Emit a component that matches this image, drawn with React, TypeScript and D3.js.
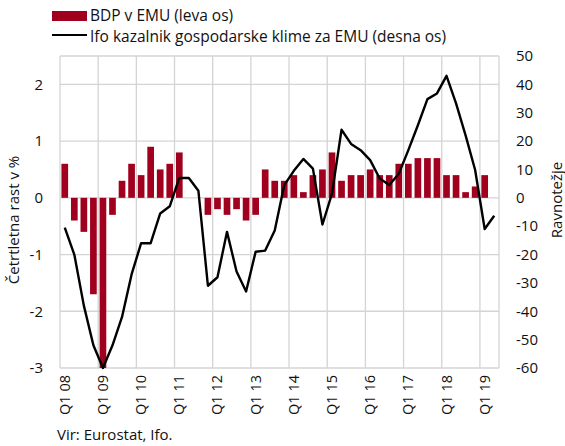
import * as d3 from "d3";

const width = 565;
const height = 446;
const marginTop = 56;
const marginBottom = 78;
const marginLeft = 60;
const marginRight = 66;

const years = ["08", "09", "10", "11", "12", "13", "14", "15", "16", "17", "18", "19"];
const quarters = years.flatMap((y) => ["Q1", "Q2", "Q3", "Q4"].map((q) => `${q} ${y}`)).slice(0, 46);

// quarterly GDP growth in EMU, % (left axis)
const gdp = [
  0.6, -0.4, -0.6, -1.7, -3.0, -0.3, 0.3, 0.6,
  0.4, 0.9, 0.5, 0.6, 0.8, 0, 0, -0.3,
  -0.2, -0.3, -0.2, -0.4, -0.3, 0.5, 0.3, 0.3,
  0.4, 0.1, 0.4, 0.5, 0.8, 0.3, 0.4, 0.4,
  0.5, 0.4, 0.4, 0.6, 0.6, 0.7, 0.7, 0.7,
  0.4, 0.4, 0.1, 0.2, 0.4, null,
];

// Ifo economic climate for EMU, balance (right axis)
const ifo = [
  -10.5, -20, -38, -52, -60, -52, -42, -27,
  -16, -16, -5.5, -3, 7, 7, 2.5, -31,
  -28, -12, -26, -33, -19, -18.6, -11.5, 4.5,
  9.5, 13.7, 10.3, -9.4, 1.5, 24, 19, 16.8,
  13.3, 6.8, 4.5, 8.5, 16.8, 25.6, 34.8, 36.8,
  43, 33.3, 22, 9.8, -11, -6.3,
];

const leftTicks = [-3, -2, -1, 0, 1, 2];
const rightTicks = [-60, -50, -40, -30, -20, -10, 0, 10, 20, 30, 40, 50];

const barColor = "#a0001e";
const gridColor = "#d4d4d4";
const font = "'Open Sans', sans-serif";

const App = () => {
  const bottomY = height - marginBottom;
  const rightX = width - marginRight;

  const x = d3
    .scaleBand()
    .domain(quarters)
    .range([marginLeft, rightX])
    .paddingInner(0.3)
    .paddingOuter(0.15);

  const yLeft = d3.scaleLinear().domain([-3, 2.5]).range([bottomY, marginTop]);
  const yRight = d3.scaleLinear().domain([-60, 50]).range([bottomY, marginTop]);

  const step = x.step();
  const center = (q) => x(q) + x.bandwidth() / 2;
  const yearStarts = quarters.filter((q) => q.startsWith("Q1"));

  const line = d3
    .line()
    .x((d) => center(d.q))
    .y((d) => yRight(d.v));

  const lineData = quarters.map((q, i) => ({ q, v: ifo[i] }));

  return (
    <svg width={width} height={height} style={{ display: "block", fontFamily: font }}>
      <style>{`body{margin:0}`}</style>

      {/* legend */}
      <rect x={52} y={11} width={35} height={10} fill={barColor} />
      <text x={90} y={20.5} fontSize={15.5} fill="#111">BDP v EMU (leva os)</text>
      <line x1={52} x2={87} y1={35} y2={35} stroke="#000" strokeWidth={2} />
      <text x={90} y={41.5} fontSize={15.5} fill="#111">Ifo kazalnik gospodarske klime za EMU (desna os)</text>

      {/* grid */}
      <g stroke={gridColor} strokeWidth={1.3}>
        {leftTicks.map((t) => (
          <line key={t} x1={marginLeft} x2={rightX} y1={yLeft(t)} y2={yLeft(t)} />
        ))}
        <line x1={marginLeft} x2={rightX} y1={marginTop} y2={marginTop} />
        {yearStarts.map((q) => (
          <line key={q} x1={x(q) - step * 0.15} x2={x(q) - step * 0.15} y1={marginTop} y2={bottomY} />
        ))}
        <line x1={rightX} x2={rightX} y1={marginTop} y2={bottomY} />
      </g>

      {/* bars */}
      <g fill={barColor}>
        {quarters.map((q, i) =>
          gdp[i] == null ? null : (
            <rect
              key={q}
              x={x(q)}
              width={x.bandwidth()}
              y={yLeft(Math.max(0, gdp[i]))}
              height={Math.abs(yLeft(gdp[i]) - yLeft(0))}
            />
          )
        )}
      </g>

      {/* line */}
      <path d={line(lineData)} fill="none" stroke="#000" strokeWidth={2.4} strokeLinejoin="round" />

      {/* left axis */}
      <g fontSize={15} fill="#111" textAnchor="end">
        {leftTicks.map((t) => (
          <text key={t} x={43} y={yLeft(t)} dy="0.35em">{t}</text>
        ))}
      </g>
      <text
        transform={`translate(19,${(marginTop + bottomY) / 2 + 8}) rotate(-90)`}
        textAnchor="middle"
        fontSize={15}
        fill="#111"
      >
        Četrtletna rast v %
      </text>

      {/* right axis */}
      <g fontSize={15} fill="#111">
        {rightTicks.map((t) => (
          <text key={t} x={516} y={yRight(t)} dy="0.35em">{t}</text>
        ))}
      </g>
      <text
        transform={`translate(562,200) rotate(-90)`}
        textAnchor="middle"
        fontSize={15}
        fill="#111"
      >
        Ravnotežje
      </text>

      {/* x axis labels */}
      <g fontSize={14.5} fill="#111" textAnchor="end">
        {yearStarts.map((q) => (
          <text key={q} transform={`translate(${center(q) + 5},${bottomY + 7}) rotate(-90)`}>
            {q}
          </text>
        ))}
      </g>

      <text x={57} y={440} fontSize={15} fill="#111">Vir: Eurostat, Ifo.</text>
    </svg>
  );
};

export default App;
